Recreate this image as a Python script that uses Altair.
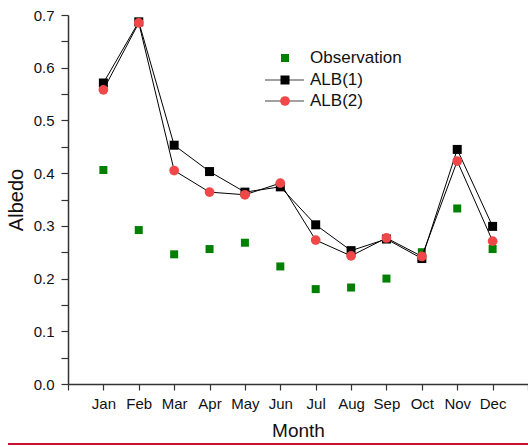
import altair as alt
import pandas as pd

months = ["Jan", "Feb", "Mar", "Apr", "May", "Jun", "Jul", "Aug", "Sep", "Oct", "Nov", "Dec"]
month_num = list(range(1, 13))
observation = [0.406, 0.292, 0.246, 0.256, 0.268, 0.223, 0.180, 0.183, 0.200, 0.250, 0.333, 0.256]
alb1 = [0.571, 0.687, 0.453, 0.403, 0.364, 0.374, 0.302, 0.253, 0.275, 0.238, 0.445, 0.299]
alb2 = [0.558, 0.685, 0.405, 0.364, 0.359, 0.381, 0.273, 0.243, 0.277, 0.242, 0.423, 0.271]
legend_labels = ["Observation", "ALB(1)", "ALB(2)"]

FONT = "Liberation Sans"
GREEN = "#008000"
RED = "#f04848"
AXC = "#333333"

df = pd.DataFrame({"m": month_num, "month": months, "obs": observation, "a1": alb1, "a2": alb2})

x_vals = list(range(0, 14))
y_vals = [round(i * 0.05, 2) for i in range(0, 15)]
label_map = "{" + ",".join(f"'{i}':'{m}'" for i, m in zip(month_num, months)) + "}"

x_enc = alt.X("m:Q", scale=alt.Scale(domain=[0, 13], nice=False, zero=False),
              axis=alt.Axis(title="Month", values=x_vals, grid=False,
                            labelExpr=f"({label_map})[toString(datum.value)] || ''",
                            tickSize=6, domainColor=AXC, tickColor=AXC, labelColor="#111",
                            labelFont=FONT, labelFontSize=15, titleFont=FONT, titleFontSize=19,
                            titleFontWeight="normal", titleColor="#111", labelPadding=6, titlePadding=10,
                            domainWidth=1.5, tickWidth=1.2))


def yenc(field):
    return alt.Y(f"{field}:Q", scale=alt.Scale(domain=[0, 0.7], nice=False, zero=True),
                 axis=alt.Axis(title="Albedo", values=y_vals, grid=False,
                               labelExpr="round(datum.value*20) % 2 == 0 ? format(datum.value, '.1f') : ''",
                               tickSize=7, domainColor=AXC, tickColor=AXC, labelColor="#111",
                               labelFont=FONT, labelFontSize=15, titleFont=FONT, titleFontSize=20,
                               titleFontWeight="normal", titleColor="#111", labelPadding=7, titlePadding=7,
                               domainWidth=1.5, tickWidth=1.2))


base = alt.Chart(df)
obs_pts = base.mark_square(size=64, color=GREEN, opacity=1).encode(x=x_enc, y=yenc("obs"))
l1 = base.mark_line(color="black", strokeWidth=1).encode(x=x_enc, y=yenc("a1"))
p1 = base.mark_square(size=81, color="black", opacity=1).encode(x=x_enc, y=yenc("a1"))
l2 = base.mark_line(color="black", strokeWidth=1).encode(x=x_enc, y=yenc("a2"))
p2 = base.mark_circle(size=95, color=RED, opacity=1).encode(x=x_enc, y=yenc("a2"))

# legend (decoration)
leg = []
ys = [58, 80, 101]
lx = 217  # relative to plot origin (plot x starts at 68)
for i, (lab, yy) in enumerate(zip(legend_labels, ys)):
    d = alt.Chart(pd.DataFrame({"t": [lab]}))
    if i > 0:
        leg.append(d.mark_rule(color="#444", strokeWidth=1.2).encode(
            x=alt.value(lx - 20), x2=alt.value(lx + 19), y=alt.value(yy - 15)))
    if i == 0:
        leg.append(d.mark_square(size=64, color=GREEN, opacity=1).encode(x=alt.value(lx), y=alt.value(yy - 15)))
    elif i == 1:
        leg.append(d.mark_square(size=81, color="black", opacity=1).encode(x=alt.value(lx), y=alt.value(yy - 15)))
    else:
        leg.append(d.mark_circle(size=95, color=RED, opacity=1).encode(x=alt.value(lx), y=alt.value(yy - 15)))
    leg.append(d.mark_text(align="left", baseline="middle", font=FONT, fontSize=17, color="#111").encode(
        x=alt.value(lx + 25), y=alt.value(yy - 15), text="t:N"))

bottom_line = alt.Chart(pd.DataFrame({"a": [0]})).mark_rule(color="#c8102e", strokeWidth=2).encode(
    x=alt.value(-60), x2=alt.value(470), y=alt.value(429))

chart = alt.layer(obs_pts, l1, p1, l2, p2, *leg, bottom_line).properties(
    width=460, height=369,
    autosize=alt.AutoSizeParams(type="none"),
    padding={"left": 68, "top": 15, "right": 0, "bottom": 63},
    background="white",
).configure_view(stroke=None)

chart.save("out.html", embed_options={"renderer": "svg", "actions": False})
